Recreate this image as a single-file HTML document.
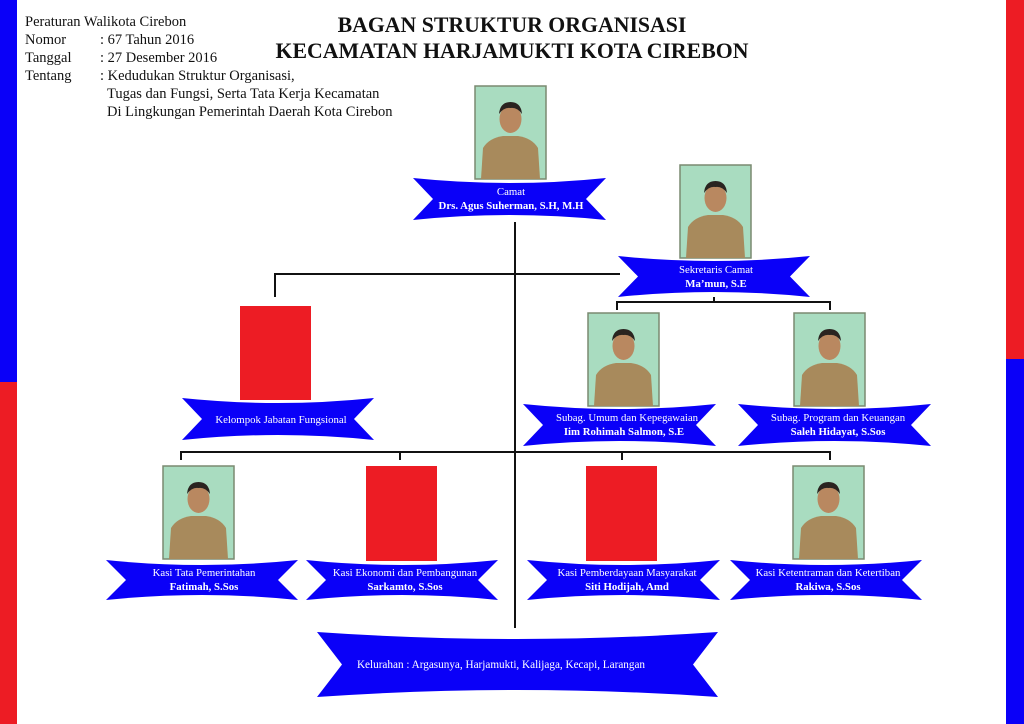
<!DOCTYPE html>
<html><head><meta charset="utf-8"><style>
html,body{margin:0;padding:0;background:#fff;}
svg{display:block;font-family:"Liberation Serif",serif;}
</style></head><body>
<svg width="1024" height="724" viewBox="0 0 1024 724" xmlns="http://www.w3.org/2000/svg">
<defs>
<g id="p">
<rect x="0" y="0" width="71" height="93" fill="#a9dcc0"/>
<rect x="0" y="0" width="71" height="93" fill="none" stroke="#7a8a70" stroke-width="1.5"/>
<path d="M6,93 L8,62 Q14,52 28,50 L43,50 Q57,52 63,62 L65,93 Z" fill="#a88a5c"/>
<ellipse cx="35.5" cy="33" rx="11" ry="14" fill="#b98860"/>
<path d="M24,28 Q25,16 35.5,16 Q46,16 47,28 Q42,21 35.5,22 Q29,21 24,28Z" fill="#2a2420"/>
</g>
</defs>
<rect x="0" y="0" width="17" height="382" fill="#0a00f8"/>
<rect x="0" y="382" width="17" height="342" fill="#ed1c24"/>
<rect x="1006" y="0" width="18" height="359" fill="#ed1c24"/>
<rect x="1006" y="359" width="18" height="365" fill="#0a00f8"/>

<g font-size="14.5" fill="#111">
<text x="25" y="26">Peraturan Walikota Cirebon</text>
<text x="25" y="44">Nomor</text><text x="100" y="44">: 67 Tahun 2016</text>
<text x="25" y="62">Tanggal</text><text x="100" y="62">: 27 Desember 2016</text>
<text x="25" y="80">Tentang</text><text x="100" y="80">: Kedudukan Struktur Organisasi,</text>
<text x="107" y="98">Tugas dan Fungsi, Serta Tata Kerja Kecamatan</text>
<text x="107" y="116">Di Lingkungan Pemerintah Daerah Kota Cirebon</text>
</g>
<g font-size="21.8" font-weight="bold" fill="#111" text-anchor="middle">
<text x="512" y="32">BAGAN STRUKTUR ORGANISASI</text>
<text x="512" y="58">KECAMATAN HARJAMUKTI KOTA CIREBON</text>
</g>

<g stroke="#111" stroke-width="2" fill="none">
<line x1="515" y1="222" x2="515" y2="628"/>
<polyline points="275,297 275,274 620,274"/>
<polyline points="617,310 617,302 830,302 830,310"/>
<line x1="714" y1="297" x2="714" y2="302"/>
<polyline points="181,460 181,452 830,452 830,460"/>
<line x1="400" y1="452" x2="400" y2="460"/>
<line x1="622" y1="452" x2="622" y2="460"/>
</g>

<use href="#p" x="475" y="86"/>
<use href="#p" x="680" y="165"/>
<use href="#p" x="588" y="313"/>
<use href="#p" x="794" y="313"/>
<use href="#p" x="163" y="466"/>
<use href="#p" x="793" y="466"/>
<rect x="240" y="306" width="71" height="94" fill="#ed1c24"/>
<rect x="366" y="466" width="71" height="95" fill="#ed1c24"/>
<rect x="586" y="466" width="71" height="95" fill="#ed1c24"/>

<g fill="#0a00f8">
<path d="M413,178 Q509.5,188 606,178 L586,199 L606,220 Q509.5,210 413,220 L433,199 Z"/>
<path d="M618,256 Q714,266 810,256 L790,276.5 L810,297 Q714,287 618,297 L638,276.5 Z"/>
<path d="M182,398 Q278,408 374,398 L354,419 L374,440 Q278,430 182,440 L202,419 Z"/>
<path d="M523,404 Q619.5,414 716,404 L696,425 L716,446 Q619.5,436 523,446 L543,425 Z"/>
<path d="M738,404 Q834.5,414 931,404 L911,425 L931,446 Q834.5,436 738,446 L758,425 Z"/>
<path d="M106,560 Q202,570 298,560 L278,580 L298,600 Q202,590 106,600 L126,580 Z"/>
<path d="M306,560 Q402,570 498,560 L478,580 L498,600 Q402,590 306,600 L326,580 Z"/>
<path d="M527,560 Q623.5,570 720,560 L700,580 L720,600 Q623.5,590 527,600 L547,580 Z"/>
<path d="M730,560 Q826,570 922,560 L902,580 L922,600 Q826,590 730,600 L750,580 Z"/>
<path d="M317,632 Q517.5,646 718,632 L693,664.5 L718,697 Q517.5,683 317,697 L342,664.5 Z"/>
</g>

<g fill="#fff" font-size="10.8" text-anchor="middle">
<text x="511" y="195">Camat</text>
<text x="511" y="209" font-weight="bold">Drs. Agus Suherman, S.H, M.H</text>
<text x="716" y="273">Sekretaris Camat</text>
<text x="716" y="287" font-weight="bold">Ma’mun, S.E</text>
<text x="281" y="423">Kelompok Jabatan Fungsional</text>
<text x="627" y="421">Subag. Umum dan Kepegawaian</text>
<text x="624" y="435" font-weight="bold">Iim Rohimah Salmon, S.E</text>
<text x="838" y="421">Subag. Program dan Keuangan</text>
<text x="838" y="435" font-weight="bold">Saleh Hidayat, S.Sos</text>
<text x="204" y="576">Kasi Tata Pemerintahan</text>
<text x="204" y="590" font-weight="bold">Fatimah, S.Sos</text>
<text x="405" y="576">Kasi Ekonomi dan Pembangunan</text>
<text x="405" y="590" font-weight="bold">Sarkamto, S.Sos</text>
<text x="627" y="576">Kasi Pemberdayaan Masyarakat</text>
<text x="627" y="590" font-weight="bold">Siti Hodijah, Amd</text>
<text x="828" y="576">Kasi Ketentraman dan Ketertiban</text>
<text x="828" y="590" font-weight="bold">Rakiwa, S.Sos</text>
<text x="501" y="668" font-size="11.2">Kelurahan : Argasunya, Harjamukti, Kalijaga, Kecapi, Larangan</text>
</g>
</svg>
</body></html>
